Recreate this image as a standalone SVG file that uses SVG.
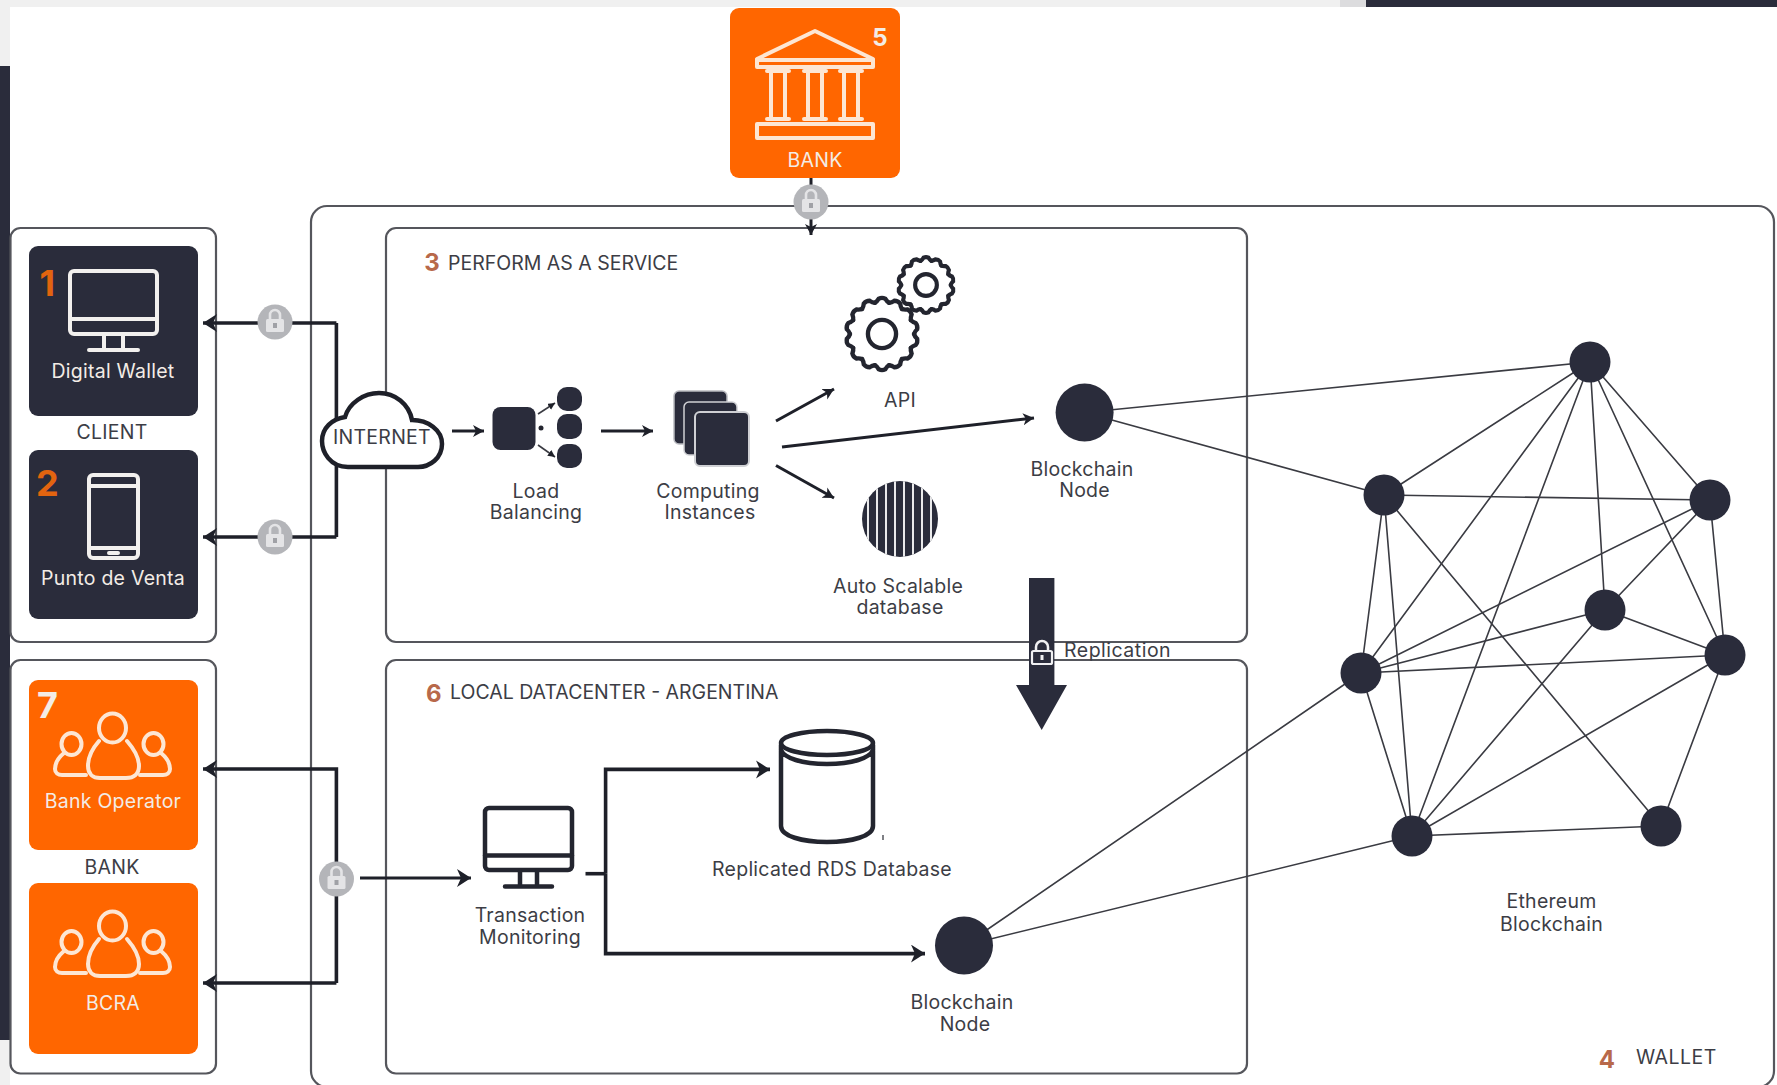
<svg xmlns="http://www.w3.org/2000/svg" width="1777" height="1085" viewBox="0 0 1777 1085">
<style>
text{font-family:"Inter","Open Sans","Liberation Sans",sans-serif;font-size:19.500px;letter-spacing:.25px;fill:#3c3d45;text-anchor:middle}
.lt{fill:#f3ece6}.st{text-anchor:start;letter-spacing:0}
.num{font-weight:700;fill:#b8694a;font-size:24px}
.big{font-weight:700;fill:#e2640f;font-size:36px}
.box{fill:none;stroke:#55565c;stroke-width:2.2}
.dark{fill:#2a2c3b}.org{fill:#ff6600}
.ic{fill:none;stroke:#f2f0ee;stroke-width:4;stroke-linejoin:round;stroke-linecap:round}
.ico{fill:none;stroke:#fde6d3;stroke-width:4;stroke-linejoin:round;stroke-linecap:round}
.idk{fill:none;stroke:#23252f;stroke-width:4.5;stroke-linejoin:round;stroke-linecap:round}
.c{fill:none;stroke:#1e2029;stroke-width:3.6}
.t{fill:none;stroke:#1e2029;stroke-width:3}
.e{stroke:#3a3b42;stroke-width:1.6;fill:none}
.nd{fill:#2a2c3b}
</style>
<defs>
<marker id="ah" markerUnits="userSpaceOnUse" markerWidth="16" markerHeight="20" refX="14" refY="9" orient="auto"><path d="M0 0 L14 9 L0 18 L4 9z" fill="#1e2029"/></marker>
<marker id="as" markerUnits="userSpaceOnUse" markerWidth="12" markerHeight="14" refX="11" refY="6" orient="auto"><path d="M0 0 L11 6 L0 12 L3 6z" fill="#1e2029"/></marker>
<marker id="at" markerUnits="userSpaceOnUse" markerWidth="8" markerHeight="8" refX="7" refY="3.500" orient="auto"><path d="M0 0 L7 3.500 L0 7z" fill="#1e2029"/></marker>
<g id="lock"><circle r="17.500" fill="#b4b5b9"/><path d="M-5 -3 V-7 A5 5 0 0 1 5 -7 V-3" fill="none" stroke="#e4e4e6" stroke-width="2.600"/><rect x="-9" y="-3" width="18" height="13" rx="1.500" fill="#e4e4e6"/><rect x="-2" y="1" width="4" height="5" fill="#a0a1a6"/></g>
<path id="tooth" d="M-7.340 -32.170Q-5 -33.500 -3.310 -36.400Q0 -38 3.310 -36.400Q5 -33.500 7.340 -32.170"/>
<g id="gear" fill="none" stroke="#23252f" stroke-linecap="round">
<use href="#tooth"/><use href="#tooth" transform="rotate(25.714)"/><use href="#tooth" transform="rotate(51.430)"/><use href="#tooth" transform="rotate(77.140)"/><use href="#tooth" transform="rotate(102.860)"/><use href="#tooth" transform="rotate(128.570)"/><use href="#tooth" transform="rotate(154.290)"/><use href="#tooth" transform="rotate(180)"/><use href="#tooth" transform="rotate(205.710)"/><use href="#tooth" transform="rotate(231.430)"/><use href="#tooth" transform="rotate(257.140)"/><use href="#tooth" transform="rotate(282.860)"/><use href="#tooth" transform="rotate(308.570)"/><use href="#tooth" transform="rotate(334.290)"/>
<circle r="14.500"/></g>
<g id="people" class="ico">
<ellipse cx="112.500" cy="728" rx="13.500" ry="14.500"/><path d="M99 741C92 749 88 758 88 766C88 774 93 778 100 778H126C134 778 139 774 139 766C139 758 134 749 127 741"/>
<ellipse cx="71.500" cy="744" rx="10" ry="11"/><path d="M64 753C58 758 55 764 55 769C55 773 58 775 62 775H86"/>
<ellipse cx="153.500" cy="744" rx="10" ry="11"/><path d="M161 753C167 758 170 764 170 769C170 773 167 775 163 775H140"/>
</g>
<clipPath id="dbc"><circle cx="900" cy="519" r="38"/></clipPath>
</defs>
<rect width="1777" height="1085" fill="#fff"/>
<g id="page-edges">
<rect x="0" y="0" width="1340" height="7" fill="#f0f0f0"/><rect x="1340" y="0" width="26" height="7" fill="#dcdcde"/><rect x="1366" y="0" width="411" height="7" fill="#2a2c3b"/>
<rect x="0" y="7" width="10" height="59" fill="#f0f0f0"/><rect x="0" y="66" width="10" height="974" fill="#2a2c3b"/><rect x="0" y="1040" width="10" height="45" fill="#f0f0f0"/>
</g>
<g id="containers">
<rect id="wallet-box" class="box" x="311" y="206" width="1463" height="881" rx="16"/>
<rect id="perform-box" class="box" x="386" y="228" width="861" height="414" rx="10"/>
<rect id="local-box" class="box" x="386" y="660" width="861" height="413.500" rx="10"/>
<rect id="client-box" class="box" x="10.500" y="228" width="205.500" height="414" rx="10"/>
<rect id="bank-group-box" class="box" x="10.500" y="660" width="205.500" height="413.500" rx="10"/>
</g>
<g id="connectors">
<path class="c" d="M336.400 323V537"/>
<path class="c" d="M336.400 323H203" marker-end="url(#ah)"/>
<path class="c" d="M336.400 537H203" marker-end="url(#ah)"/>
<path class="c" d="M336.400 983V769H203" marker-end="url(#ah)"/>
<path class="c" d="M336.400 983H203" marker-end="url(#ah)"/>
<path class="t" d="M360 878H471" marker-end="url(#ah)"/>
<path class="t" d="M811 178V235" marker-end="url(#as)"/>
<path class="t" d="M452 431H484" marker-end="url(#as)"/>
<path class="t" d="M601 431H653" marker-end="url(#as)"/>
<path class="t" d="M776 421L834 389" marker-end="url(#as)"/>
<path class="t" d="M782 447L1034 418" marker-end="url(#as)"/>
<path class="t" d="M776 465.500L834 498" marker-end="url(#as)"/>
<path class="c" d="M585.500 873.700H605.600"/>
<path class="c" d="M605.600 873.700V769.400H770" marker-end="url(#ah)"/>
<path class="c" d="M605.600 873.700V953.600H925" marker-end="url(#ah)"/>
<g id="network-edges">
<path class="e" d="M1084.600 412.500L1590 362M1084.600 412.500L1384 495M964 945.500L1361 673M964 945.500L1412 836"/>
<path class="e" d="M1590 362L1384 495M1590 362L1710 500M1590 362L1605 610M1590 362L1725 655M1590 362L1361 673M1590 362L1412 836"/>
<path class="e" d="M1384 495L1710 500M1384 495L1361 673M1384 495L1412 836M1384 495L1661 826"/>
<path class="e" d="M1710 500L1605 610M1710 500L1725 655M1710 500L1361 673"/>
<path class="e" d="M1605 610L1725 655M1605 610L1361 673M1605 610L1412 836"/>
<path class="e" d="M1725 655L1361 673M1725 655L1412 836M1725 655L1661 826"/>
<path class="e" d="M1361 673L1412 836M1412 836L1661 826"/>
</g>
</g>
<g id="bank-top"><rect class="org" x="730" y="8" width="170" height="170" rx="9"/>
<g class="ico" stroke-width="3.500"><path d="M815 31L757 59V67H873V59Z"/><path d="M757 60H873"/><path d="M767 71H789M804 71H826M840 71H862M771 71V119M785 71V119M808 71V119M822 71V119M844 71V119M858 71V119M767 119H789M804 119H826M840 119H862"/><rect x="757" y="124" width="116" height="14"/></g>
<text class="lt" x="815" y="167">BANK</text><text class="lt" x="880" y="46" style="font-weight:700;font-size:24px">5</text></g>
<g id="digital-wallet"><rect class="dark" x="29" y="246" width="169" height="170" rx="9"/>
<text class="big" x="47.500" y="296">1</text>
<g class="ic"><rect x="70" y="271" width="87" height="63" rx="4"/><path d="M70 319H157M104 335V350M123 335V350M89 350H138"/></g>
<text class="lt" x="113" y="378">Digital Wallet</text></g>
<text x="112" y="439">CLIENT</text>
<g id="punto-de-venta"><rect class="dark" x="29" y="450" width="169" height="169" rx="9"/>
<text class="big" x="47.500" y="496">2</text>
<g class="ic"><rect x="89" y="475" width="49" height="83" rx="4"/><path d="M89 486H138M89 548H138M109 553H118"/></g>
<text class="lt" x="113" y="585">Punto de Venta</text></g>
<g id="bank-operator"><rect class="org" x="29" y="680" width="169" height="170" rx="9"/>
<text class="lt" x="47.500" y="718" style="font-weight:700;font-size:36px">7</text>
<use href="#people"/>
<text class="lt" x="113" y="808">Bank Operator</text></g>
<text x="112" y="874">BANK</text>
<g id="bcra"><rect class="org" x="29" y="883" width="169" height="171" rx="9"/>
<use href="#people" transform="translate(0 198)"/>
<text class="lt" x="113" y="1010">BCRA</text></g>
<g id="locks"><use href="#lock" x="811" y="202"/><use href="#lock" x="275" y="322"/><use href="#lock" x="275" y="537"/><use href="#lock" x="336.500" y="879"/></g>
<g id="internet"><path d="M348 467C330 467 322 452 322 441C322 428 332 419 345 417C349 403 364 393 379 393C395 393 409 404 412 420C428 420 442 430 442 444C442 458 430 467 418 467Z" fill="#fff" stroke="#1e2029" stroke-width="4.500"/>
<text x="382" y="444">INTERNET</text></g>
<g id="load-balancing"><rect class="dark" x="492.500" y="407" width="43" height="43" rx="8"/>
<rect class="dark" x="557" y="387" width="25" height="24" rx="10"/><rect class="dark" x="557" y="414" width="25" height="25" rx="10"/><rect class="dark" x="557" y="444" width="25" height="24" rx="10"/>
<path d="M538 414L555 403" class="e" marker-end="url(#at)"/><path d="M538 445L555 457" class="e" marker-end="url(#at)"/><circle cx="541" cy="428" r="2.500" fill="#23252f"/>
<text x="536" y="498">Load</text><text x="536" y="519">Balancing</text></g>
<g id="computing-instances"><rect class="dark" x="674" y="391" width="53" height="53" rx="5" stroke="#b9bac0" stroke-width="1.500"/><rect class="dark" x="684" y="402" width="53" height="53" rx="5" stroke="#cfd0d4" stroke-width="1.500"/><rect class="dark" x="695" y="412" width="54" height="54" rx="5" stroke="#cfd0d4" stroke-width="2"/>
<text x="708" y="498">Computing</text><text x="710" y="519">Instances</text></g>
<g id="api"><use href="#gear" transform="translate(882 334) scale(.97)" stroke-width="4.500"/><use href="#gear" transform="translate(926 285) scale(.75)" stroke-width="5.500"/>
<text x="900" y="407">API</text></g>
<g id="auto-scalable-db"><circle class="dark" cx="900" cy="519" r="38"/>
<path clip-path="url(#dbc)" stroke="#fff" stroke-width="1.800" d="M868 480V560M877 480V560M886 480V560M895 480V560M904 480V560M913 480V560M922 480V560M931 480V560"/>
<text x="898" y="593">Auto Scalable</text><text x="900" y="614">database</text></g>
<g id="blockchain-node-1"><circle class="nd" cx="1084.600" cy="412.500" r="29"/><text x="1082" y="476">Blockchain</text><text x="1084.600" y="497">Node</text></g>
<g id="replication"><path class="dark" d="M1029 578H1054.400V685H1067L1041.700 730L1016 685H1029Z"/>
<path d="M1036 652V647A6 6 0 0 1 1048 647V652" fill="none" stroke="#f0f0f2" stroke-width="2.500"/><rect x="1032" y="651" width="20" height="13" rx="1.500" fill="#2a2c3b" stroke="#f0f0f2" stroke-width="2.200"/><rect x="1040.500" y="655" width="3" height="5" fill="#f0f0f2"/>
<text class="st" x="1064" y="657" style="letter-spacing:.5px">Replication</text></g>
<g id="transaction-monitoring"><g class="idk"><rect x="485" y="808" width="87" height="62" rx="4"/><path d="M485 855.500H572M520 871V886M537 871V886M505 886.500H552"/></g>
<text x="530" y="922">Transaction</text><text x="530" y="944">Monitoring</text></g>
<g id="replicated-db"><g class="idk" stroke-width="5"><ellipse cx="827" cy="743" rx="46" ry="12"/><path d="M781 745V826C781 836 802 842 827 842C852 842 873 836 873 826V745M781 750C784 758 802 764 827 764C852 764 870 758 873 750"/></g><path d="M883 835V840" stroke="#55565c" stroke-width="1.500"/>
<text x="832" y="876">Replicated RDS Database</text></g>
<g id="blockchain-node-2"><circle class="nd" cx="964" cy="945.500" r="29"/><text x="962" y="1009">Blockchain</text><text x="965" y="1031">Node</text></g>
<g id="ethereum-nodes"><circle class="nd" cx="1590" cy="362" r="20.500"/><circle class="nd" cx="1384" cy="495" r="20.500"/><circle class="nd" cx="1710" cy="500" r="20.500"/><circle class="nd" cx="1605" cy="610" r="20.500"/><circle class="nd" cx="1725" cy="655" r="20.500"/><circle class="nd" cx="1361" cy="673" r="20.500"/><circle class="nd" cx="1412" cy="836" r="20.500"/><circle class="nd" cx="1661" cy="826" r="20.500"/>
<text x="1551.500" y="908">Ethereum</text><text x="1551.500" y="931">Blockchain</text></g>
<g id="titles">
<text class="num" x="432" y="271">3</text><text class="st" x="448" y="270">PERFORM AS A SERVICE</text>
<text class="num" x="434" y="702">6</text><text class="st" x="450" y="699">LOCAL DATACENTER - ARGENTINA</text>
<text class="num" x="1607" y="1068">4</text><text class="st" x="1636" y="1064" style="letter-spacing:.5px">WALLET</text>
</g>
</svg>
